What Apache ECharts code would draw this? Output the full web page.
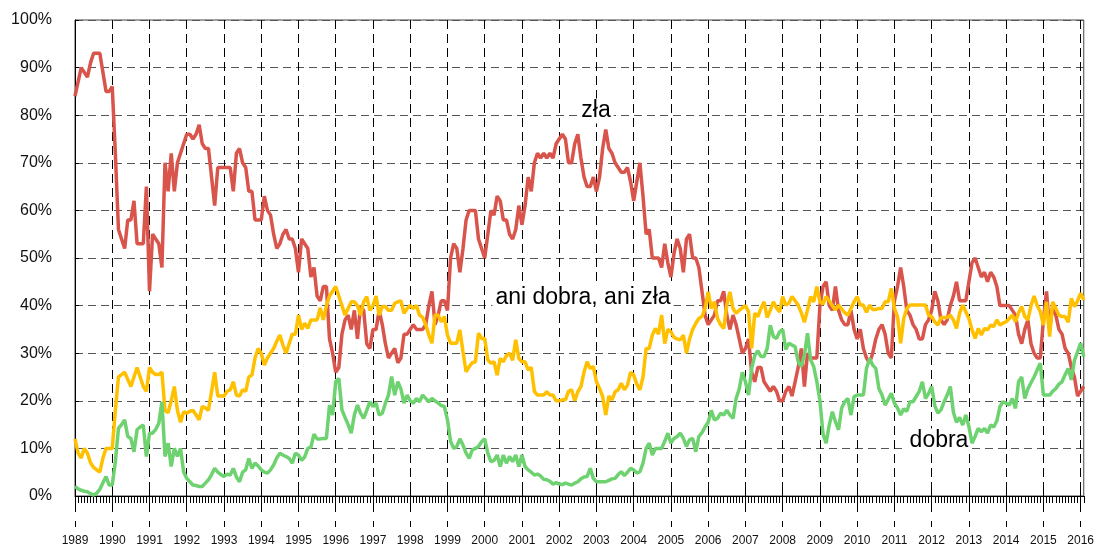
<!DOCTYPE html>
<html>
<head>
<meta charset="utf-8">
<script src="https://cdn.jsdelivr.net/npm/echarts@6/dist/echarts.min.js"></script>
<style>
html,body{margin:0;padding:0;background:#fff;}
#chart{width:1097px;height:547px;}
</style>
</head>
<body>
<div id="chart"></div>
<script>
// Monthly survey series, January 1989 .. February 2016 (percent)
const startYear = 1989;
const yearLabels = [1989,1990,1991,1992,1993,1994,1995,1996,1997,1998,1999,2000,2001,2002,2003,2004,2005,2006,2007,2008,2009,2010,2011,2012,2013,2014,2015,2016];
const seriesNames = ['zła', 'ani dobra, ani zła', 'dobra'];

const zla = [
  84,87,90,89,88,91,93,93,93,89,85,85,
  86,72,56,54,52,58,58,62,53,53,53,65,
  43,55,54,53,48,70,64,72,64,70,72,74,
  76,76,75,76,78,74,73,73,67,61,69,69,
  69,69,69,64,72,73,70,69,64,64,58,58,
  58,63,60,59,55,52,53,55,56,54,54,52,
  47,54,53,52,46,48,42,41,44,44,33,30,
  26,27,34,37,38,35,39,33,40,39,32,31,
  35,35,39,36,32,29,30,31,28,29,34,34,
  35,36,35,35,35,36,40,43,36,38,41,41,
  39,50,53,52,47,52,58,60,60,60,54,52,
  50,55,60,59,63,62,58,58,55,54,56,61,
  57,61,67,64,70,72,71,72,71,72,71,74,
  75,76,75,70,70,74,76,71,67,65,65,67,
  64,67,73,77,73,72,70,69,68,68,69,66,
  62,66,70,63,55,56,50,50,50,48,53,49,
  46,51,54,52,47,54,55,50,50,48,43,38,
  36,37,38,41,41,43,38,35,38,36,33,30,
  31,33,26,24,27,27,24,23,22,23,22,20,
  20,22,23,21,24,27,31,23,30,29,29,29,
  40,44,45,40,39,44,39,37,36,36,39,35,
  33,35,31,29,28,30,33,35,36,34,30,29,
  41,44,48,44,39,38,36,35,33,33,36,37,
  39,43,41,37,36,37,40,42,45,41,41,41,
  45,49,50,48,46,47,45,47,46,44,40,40,
  40,40,39,38,34,32,35,37,32,30,29,29,
  37,43,35,40,38,35,34,31,30,27,25,21,
  22,23
];

const aniDobraAniZla = [
  12,9,8,10,9,7,6,5.5,5,8,10,10,
  10,18,25,25.5,26,24.5,23,25,27,25,23,22,
  27,26,25.5,25.5,26,18,17.5,20,23,18,15.5,17.7,
  17.4,17.8,18,17,16,18.8,18.5,18,22,26,21,21,
  21,22,22.3,24,21.2,21,22.3,22,25,25.4,29,31,
  30,27.5,29,30,31,32.5,33.8,31.7,30,32,34,34,
  38,35,36.3,35.2,37,37,37,39.5,37,40,42,43,
  44,42,40,38,39.4,40.8,40.8,40,38,40.8,41.9,39,
  40,42,38,39.8,39.8,39,39,40.5,40.8,41,38.4,39.4,
  40,39.4,40,38,37.5,36,33.8,32.1,38,38,36.6,37.7,
  33.8,32.1,32.1,32.1,34.9,30.3,26.1,27.2,28,28.2,34.2,33.1,
  33.1,28.6,27.9,28.2,25.4,28.9,28.2,29.5,30,28.5,32.8,28.9,
  28.2,28.2,26.5,27,22,21.2,21.2,21.2,21.9,21.2,21.2,20,
  20,20.2,20.2,22,22.3,20,21.9,23,26,28.2,26.8,27.2,
  24,22.6,20.9,17,21,20.2,21.9,22.3,23.7,22.3,23.3,26,
  25.4,23.5,22.3,25,31,31,33.8,35.2,34,38,32,35,
  34.5,33.3,33,32.8,33.8,30,33,35,36.3,37.3,37.7,39.4,
  42.9,39.4,40.8,37.3,36,35.2,40.1,42.9,39.4,38.4,39,39.5,
  40,38.7,31,38.4,37.7,39.4,40.8,37.5,39,40.8,39.5,38.7,
  41.9,40.1,40.5,41.9,41,40.1,38.5,36.5,39.1,41.9,40.8,44,
  40.8,40.3,41.9,41,40,39.1,40.1,39.3,38.5,38,39.4,40.8,
  41.9,40.1,40.1,38.6,40.1,39.2,39.2,39.4,39.4,40.8,40.8,43.6,
  39.4,37.7,32.1,37.3,39.4,40.1,40.1,40.1,40.1,40.1,40.1,38,
  37.7,36.6,35.9,37.5,37.5,37.5,38,37,35.2,38.4,40.1,38.7,
  37.3,34.9,33.1,35.2,33.8,35.2,34.9,35.9,35.6,37,35.9,36.3,
  36.6,37.3,38,36.6,38.5,39.8,37.7,37,40,42,40,38.7,
  35.9,40.8,33.5,40.8,39.4,38,37.7,37.7,36.5,41.5,39.8,41,
  42.6,41.2
];

const dobra = [
  2,1.5,1.2,1,0.9,0.5,0.2,0.6,1.4,2.8,4.1,2.3,
  2.3,7.2,14.2,15,16,12.5,12.1,9.3,13.9,14.5,14.9,8.3,
  13.2,13.2,14,15.3,19.8,8.3,11.1,6.2,10,8.3,10,5.1,
  3.7,3,2.3,2.2,2,2,2.7,3.4,4.5,5.8,5,4.5,
  4.1,4.6,4.4,5.8,4,3,5,5.5,7.9,5.8,6.9,6.3,
  5.5,5,4.8,5.5,6.5,8,9,8.6,8.3,7.9,6.9,9,
  8.6,7.5,8.2,10,10.3,13,12,12,12.1,12.1,19.1,17,
  24,24.7,18.1,16.5,15,13.2,17,19.1,17.4,16.3,18,19.8,
  18.8,19.5,17,17.4,19.5,21.2,25.1,21.2,24,22.5,19.5,21.2,
  20,19.5,20.5,19.8,21.2,20.5,19.8,20.5,20,19.5,19,18.8,
  16,11.5,10,10.4,12,10.7,9,7.9,9.7,10,10.4,11.4,
  12,9,7.2,7.5,8.6,6.2,8.6,6.9,8.3,7.2,8.6,6.2,
  8.6,6.2,5.5,5,4.4,4.6,4.2,3.5,3.4,3.1,2.5,2.8,
  2.5,2.4,2.7,2.5,2.3,2.7,3,3.6,4,4.1,5.8,3.7,
  3,3,3,3,3.3,3.6,3.7,4.5,5.1,4.3,5,5.8,
  5.5,4.8,5.1,6.9,10,11.1,8.6,10,10,10,11.5,13.2,
  11.1,12.1,12.5,13.2,12.1,10.4,11.8,12.1,9.3,12.5,13.3,14.5,
  15.5,18,16,16.3,17.4,17,18,17,16.3,20.5,22.5,26,
  24,21.2,26.8,29.5,30.5,29.3,29.3,31,35.9,33.5,33.1,34.5,
  35,30.8,32.1,31.7,31.4,28.2,27.2,29.6,34.2,28.6,27.2,24,
  20,13,11.1,14.9,17.7,15.6,13.9,18.5,19.8,20.5,17,20.9,
  21.2,21.2,21.2,26.8,28.9,27.5,26.8,22.6,21.2,19.1,20.3,21.6,
  19.5,18.5,17,18.3,17.8,19.8,19.8,20.9,22,24,20.5,21.5,
  23,19,17.4,18.1,19.8,21.2,23,17.6,15.5,16.5,14.9,17,
  14.6,11.1,12.5,14.2,13.5,14.2,13.2,14.9,14.5,15.8,18.8,19.8,
  19.5,19.1,20.5,18.4,24,25,20.5,22.5,23.8,25,26.5,27.9,
  21.2,21.2,21.2,22,22.6,23.5,24,25.5,26.8,24.4,28.5,30.3,
  32.1,29.3
];

const colors = ['#D9544B', '#FFC000', '#6DD26F'];
const FONT = "'Liberation Sans', Arial, Helvetica, sans-serif";

function toPairs(arr) {
  return arr.map(function (v, i) { return [startYear + i / 12, v]; });
}
const nMonths = zla.length;
const xMax = startYear + (nMonths - 1) / 12;
const monthTicks = [];
for (let i = 0; i <= (yearLabels[yearLabels.length - 1] - startYear) * 12 + 1; i++) {
  monthTicks.push(startYear + i / 12);
}

const baseX = { type: 'value', min: startYear, max: xMax, interval: 1, position: 'bottom', gridIndex: 0 };

function labelText(name, x, y) {
  return { type: 'text', x: x, y: y, z: 1, zlevel: 0,
    style: { text: name, font: '23px ' + FONT, fill: '#000', align: 'center', verticalAlign: 'middle',
      textAlign: 'center', textVerticalAlign: 'middle', backgroundColor: '#fff', padding: [1, 3] } };
}

const chart = echarts.init(document.getElementById('chart'), null, { renderer: 'canvas' });
chart.setOption({
  animation: false,
  backgroundColor: '#ffffff',
  textStyle: { fontFamily: FONT },
  grid: { left: 75, top: 20, width: 1011, height: 476, show: true, borderColor: '#444', borderWidth: 1, backgroundColor: 'transparent' },
  xAxis: [
    Object.assign({}, baseX, {
      axisLine: { show: true, lineStyle: { color: '#000', width: 1 } },
      axisTick: { show: true, customValues: yearLabels, length: 16, lineStyle: { color: '#000', width: 1 } },
      axisLabel: { show: false },
      splitLine: { show: true, lineStyle: { color: '#000', width: 1, type: [9, 5] } }
    }),
    Object.assign({}, baseX, {
      axisLine: { show: false },
      axisTick: { show: true, customValues: monthTicks, length: 7, lineStyle: { color: '#000', width: 1 } },
      axisLabel: { show: false },
      splitLine: { show: false }
    }),
    Object.assign({}, baseX, {
      axisLine: { show: false },
      axisTick: { show: true, inside: true, customValues: yearLabels, length: 6, lineStyle: { color: '#000', width: 1 } },
      axisLabel: { show: false },
      splitLine: { show: false }
    }),
    Object.assign({}, baseX, {
      offset: 25,
      axisLine: { show: false },
      axisTick: { show: true, customValues: yearLabels, length: 6, lineStyle: { color: '#000', width: 1 } },
      axisLabel: { show: true, customValues: yearLabels, fontSize: 12, color: '#111', margin: 14, fontFamily: FONT,
        formatter: function (v) { return String(Math.round(v)); } },
      splitLine: { show: false }
    })
  ],
  yAxis: {
    type: 'value', min: 0, max: 100, interval: 10,
    axisLine: { show: true, lineStyle: { color: '#000', width: 1 } },
    axisTick: { show: true, inside: true, length: 4, lineStyle: { color: '#000' } },
    axisLabel: { formatter: '{value}%', fontSize: 16, color: '#111', margin: 23, fontFamily: FONT },
    splitLine: { show: true, lineStyle: { color: '#555', width: 1, type: [8, 5] } }
  },
  series: [
    { name: seriesNames[0], type: 'line', z: 3, data: toPairs(zla), showSymbol: false, lineStyle: { width: 3.5, color: colors[0] }, itemStyle: { color: colors[0] }, xAxisIndex: 0, yAxisIndex: 0 },
    { name: seriesNames[1], type: 'line', z: 3, data: toPairs(aniDobraAniZla), showSymbol: false, lineStyle: { width: 3.5, color: colors[1] }, itemStyle: { color: colors[1] }, xAxisIndex: 0, yAxisIndex: 0 },
    { name: seriesNames[2], type: 'line', z: 3, data: toPairs(dobra), showSymbol: false, lineStyle: { width: 3.5, color: colors[2] }, itemStyle: { color: colors[2] }, xAxisIndex: 0, yAxisIndex: 0 }
  ],
  graphic: [
    labelText(seriesNames[0], 596, 111),
    labelText(seriesNames[1], 583, 298),
    labelText(seriesNames[2], 939, 441)
  ]
});
</script>
</body>
</html>
